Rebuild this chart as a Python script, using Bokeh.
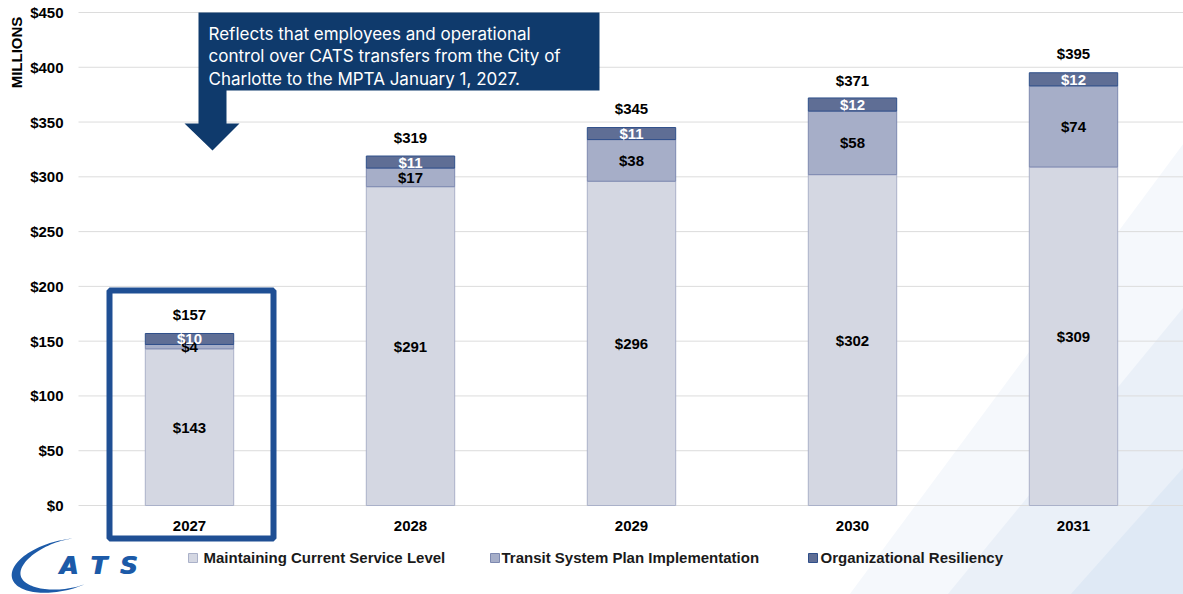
import numpy as np
from math import pi
from bokeh.plotting import figure
from bokeh.models import ColumnDataSource, Range1d
from bokeh.core.properties import value
from bokeh.embed import file_html
from bokeh.resources import INLINE

# ---------------- data ----------------
years = ["2027", "2028", "2029", "2030", "2031"]
maintaining = [143, 291, 296, 302, 309]
transit = [4, 17, 38, 58, 74]
resiliency = [10, 11, 11, 12, 12]
totals = [157, 319, 345, 371, 395]
y_ticks = [0, 50, 100, 150, 200, 250, 300, 350, 400, 450]
y_tick_labels = ["$0", "$50", "$100", "$150", "$200", "$250", "$300", "$350", "$400", "$450"]
series_names = ["Maintaining Current Service Level",
                "Transit System Plan Implementation",
                "Organizational Resiliency"]
callout_lines = ["Reflects that employees and operational",
                 "control over CATS transfers from the City of",
                 "Charlotte to the MPTA January 1, 2027."]
y_axis_title = "MILLIONS"

# ---------------- layout helpers ----------------
W, H = 1183, 594
PX_PER_UNIT = 493.0 / 450.0          # page px per $M
ZERO_PY = 505.0                       # page y of $0
X0_PX, STEP_PX = 189.0, 221.0         # page x of first category, spacing
PLOT_LEFT_PX = 78.0

def px_x(px):
    return (px - X0_PX) / STEP_PX

def py_y(py):
    return (ZERO_PY - py) / PX_PER_UNIT

FONT = value("Liberation Sans")
C_MAINT, C_TRANS, C_RES = "#d4d7e2", "#a6aec8", "#5f6e95"
L_MAINT, L_TRANS, L_RES = "#aab1c9", "#7d89b0", "#2f4f8a"
NAVY = "#0f3a6c"
BLUE = "#1f4f94"
LOGO = "#1c5aa8"

p = figure(width=W, height=H, output_backend="svg", toolbar_location=None,
           x_range=Range1d(px_x(0), px_x(W)),
           y_range=Range1d(py_y(H), py_y(0)),
           min_border_left=0, min_border_right=0,
           min_border_top=0, min_border_bottom=0)
p.outline_line_color = None
p.background_fill_color = "white"
p.border_fill_color = "white"
p.axis.visible = False
p.grid.visible = False

# background diagonal decoration
for (x_bot, y_top, col) in [(849, 143, "#f5f8fc"), (947, 307, "#eaf0f8"), (1070, 467, "#dfe9f5")]:
    bx = [px_x(x_bot), px_x(W), px_x(W)]
    by = [py_y(H), py_y(y_top), py_y(H)]
    p.patch(bx, by, fill_color=col, line_color=None)

# gridlines and y tick labels
x_left, x_right = px_x(PLOT_LEFT_PX), px_x(W)
p.segment(x0=[x_left] * len(y_ticks), x1=[x_right] * len(y_ticks), y0=y_ticks, y1=y_ticks,
          line_color="#dcdcdc", line_width=1)
p.text(x=[x_left] * len(y_ticks), y=y_ticks, text=y_tick_labels, x_offset=-15,
       text_font=FONT, text_font_style="bold", text_font_size="15px",
       text_color="#000000", text_align="right", text_baseline="middle")

# stacked bars
xs = list(range(len(years)))
m = np.array(maintaining, dtype=float)
t = np.array(transit, dtype=float)
r = np.array(resiliency, dtype=float)
src = ColumnDataSource(dict(x=xs, m=m, t=t, r=r))
p.vbar_stack(["m", "t", "r"], x="x", width=0.4, source=src,
             fill_color=[C_MAINT, C_TRANS, C_RES],
             line_color=[L_MAINT, L_TRANS, L_RES], line_width=1)

# segment labels
seg = ColumnDataSource(dict(
    x=xs * 3,
    y=list(m / 2) + list(m + t / 2) + list(m + t + r / 2),
    txt=["$%d" % v for v in maintaining] + ["$%d" % v for v in transit] + ["$%d" % v for v in resiliency],
    col=["#000000"] * 10 + ["#ffffff"] * 5,
))
p.text(x="x", y="y", text="txt", text_color="col", source=seg,
       text_font=FONT, text_font_style="bold", text_font_size="15px",
       text_align="center", text_baseline="middle")

# totals
p.text(x=xs, y=totals, text=["$%d" % v for v in totals], y_offset=-19,
       text_font=FONT, text_font_style="bold", text_font_size="15px",
       text_color="#000000", text_align="center", text_baseline="middle")

# category labels
p.text(x=xs, y=[0] * len(xs), text=years, y_offset=20,
       text_font=FONT, text_font_style="bold", text_font_size="15px",
       text_color="#000000", text_align="center", text_baseline="middle")

# highlight box around 2027
p.quad(left=[px_x(109)], right=[px_x(273)], top=[py_y(290)], bottom=[py_y(538)],
       fill_color=None, line_color=BLUE, line_width=6)

# callout (box + arrow)
cx_px = [198, 599, 599, 226, 226, 239, 212, 184, 198]
cy_px = [12, 12, 90, 90, 123, 123, 150, 123, 123]
p.patch([px_x(v) for v in cx_px], [py_y(v) for v in cy_px],
        fill_color=NAVY, line_color=None)
p.text(x=[px_x(208)] * 3, y=[py_y(33), py_y(55.5), py_y(78)], text=callout_lines,
       text_font=value("Inter"), text_font_size="17px", text_color="#ffffff",
       text_align="left", text_baseline="alphabetic")

# legend (manual)
leg_sq_px = [192.5, 494.5, 812.5]
leg_tx_px = [203, 501, 820]
p.rect(x=[px_x(v) for v in leg_sq_px], y=[py_y(557.5)] * 3, width=9, height=9,
       width_units="screen", height_units="screen",
       fill_color=[C_MAINT, C_TRANS, C_RES], line_color=[L_MAINT, L_TRANS, L_RES])
p.text(x=[px_x(v) for v in leg_tx_px], y=[py_y(557)] * 3, text=series_names,
       text_font=FONT, text_font_style="bold", text_font_size="15px",
       text_color="#1a1a1a", text_align="left", text_baseline="middle")

# y axis title
p.text(x=[px_x(16)], y=[py_y(52)], text=[y_axis_title], angle=pi / 2,
       text_font=FONT, text_font_style="bold", text_font_size="15px",
       text_color="#000000", text_align="center", text_baseline="middle")

# CATS logo (approximate)
ang = np.linspace(0.40 * pi, 1.62 * pi, 70)
ccx, ccy, rx, ry = 62.0, 565.0, 52.0, 25.0
rot = np.deg2rad(14)
def ell(ax, ay):
    ex = ax * np.cos(ang)
    ey = ay * np.sin(ang)
    return ccx + ex * np.cos(rot) - ey * np.sin(rot), ccy - (ex * np.sin(rot) + ey * np.cos(rot))
wth = 9.0 * np.sin((ang - ang[0]) / (ang[-1] - ang[0]) * pi) ** 1.3
ox, oy = ell(rx, ry)
ix, iy = ell(rx - wth, ry - wth * 0.7)
poly_x = list(ox) + list(ix[::-1])
poly_y = list(oy) + list(iy[::-1])
p.patch([px_x(v) for v in poly_x], [py_y(v) for v in poly_y],
        fill_color=LOGO, line_color=None)
for dx in (0.0, 1.2):
    p.text(x=[px_x(v + dx) for v in [68, 98, 128]], y=[py_y(565)] * 3, text=["A", "T", "S"],
           text_font=value("DejaVu Sans"), text_font_style="bold italic", text_font_size="24px",
           text_color=LOGO, text_align="center", text_baseline="middle")

open("out.html", "w").write(file_html(p, INLINE))
